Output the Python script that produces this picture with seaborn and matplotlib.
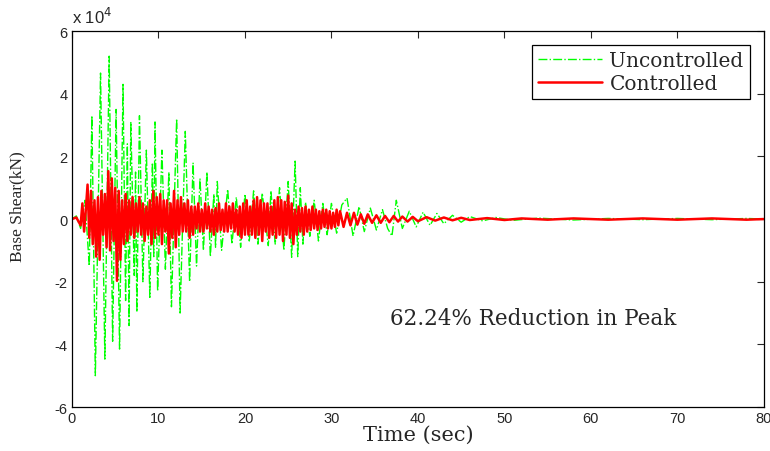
import numpy as np
import pandas as pd
import seaborn as sns
import matplotlib.pyplot as plt

# base shear peaks, units of 1e4 kN
t_unc = [0, 0.5, 1.0, 1.5, 2.0, 2.3, 2.7, 3.3, 3.8, 4.3, 4.7, 5.1, 5.5, 5.9, 6.2, 6.4,
         6.6, 6.8, 7.2, 7.35, 7.5, 7.8, 8.2, 8.6, 9.0, 9.3, 9.45, 9.6, 9.9, 10.4, 10.8,
         11.2, 11.5, 12.1, 12.5, 13.1, 13.6, 14.0, 14.4, 14.8, 15.2, 15.6, 16.0, 16.4,
         16.6, 16.8, 17.3, 18.0, 18.5, 19.0, 19.5, 20.0, 20.5, 21.0, 21.5, 22.0, 22.7,
         23.0, 23.5, 24.0, 24.5, 25.0, 25.4, 25.8, 26.1, 26.4, 26.7, 27.0, 27.5, 28.0,
         28.5, 29.0, 29.5, 30.0, 30.6, 31.2, 31.8, 32.5, 33.2, 33.8, 34.5, 35.2, 35.9,
         36.5, 37.0, 37.5, 38.2, 39.0, 39.8, 40.6, 41.4, 42.2, 43.0, 44.0, 45.0, 46.0,
         47.5, 49.0, 51.0, 54.0, 58.0, 62.0, 66.0, 70.0, 74.0, 78.0, 80.0]
v_unc = [0, 0.1, -0.3, 0.6, -1.5, 3.3, -5.0, 4.66, -4.47, 5.2, -3.9, 3.5, -4.15, 4.3, -2.6, 2.4,
         -3.4, 3.1, -1.8, 1.5, -2.97, 3.3, -2.0, 2.2, -2.5, 1.8, -1.2, 3.1, -2.3, 2.2, -1.6,
         1.5, -2.8, 3.2, -3.0, 2.8, -2.0, 1.8, -1.5, 1.3, -1.0, 1.5, -1.2, 0.8,
         -0.9, 1.2, -1.0, 0.95, -0.8, 0.7, -0.9, 0.8, -0.7, 0.9, -0.8, 0.83, -0.85,
         0.9, -0.8, 1.0, -1.0, 1.2, -1.22, 1.85, -1.2, 1.0, -0.8, 0.54, -0.55, 0.6,
         -0.7, 0.5, -0.5, 0.5, -0.45, 0.45, 0.67, -0.54, 0.4, -0.4, 0.35, -0.35, 0.3,
         -0.3, -0.54, 0.6, -0.3, 0.25, -0.25, 0.22, -0.2, 0.18, -0.15, 0.12, -0.1, 0.08,
         -0.06, 0.05, -0.04, 0.03, -0.03, 0.02, -0.02, 0.02, -0.02, 0.02, 0]

t_con = [0, 0.5,
         1.0, 1.2, 1.4, 1.6, 1.8, 2.0, 2.2, 2.4, 2.6, 2.8, 3.0,
         3.2, 3.4, 3.6, 3.8, 4.0, 4.2, 4.4, 4.6, 4.8, 5.0,
         5.2, 5.4, 5.6, 5.8, 6.0, 6.2, 6.4, 6.6, 6.8, 7.0,
         7.2, 7.4, 7.6, 7.8, 8.0, 8.2, 8.4, 8.6, 8.8, 9.0,
         9.2, 9.4, 9.6, 9.8, 10.0, 10.2, 10.4, 10.6, 10.8, 11.0,
         11.2, 11.4, 11.6, 11.8, 12.0, 12.2, 12.4, 12.6, 12.8, 13.0,
         13.2, 13.4, 13.6, 13.8, 14.0, 14.2, 14.4, 14.6, 14.8, 15.0,
         15.2, 15.4, 15.6, 15.8, 16.0, 16.2, 16.4, 16.6, 16.8, 17.0,
         17.2, 17.4, 17.6, 17.8, 18.0, 18.2, 18.4, 18.6, 18.8, 19.0,
         19.2, 19.4, 19.6, 19.8, 20.0, 20.2, 20.4, 20.6, 20.8, 21.0,
         21.2, 21.4, 21.6, 21.8, 22.0, 22.2, 22.4, 22.6, 22.8, 23.0,
         23.2, 23.4, 23.6, 23.8, 24.0, 24.2, 24.4, 24.6, 24.8, 25.0,
         25.2, 25.4, 25.6, 25.8, 26.0, 26.2, 26.4, 26.6, 26.8, 27.0,
         27.2, 27.4, 27.6, 27.8, 28.0, 28.2, 28.4, 28.6, 28.8, 29.0,
         29.2, 29.4, 29.6, 29.8, 30.0, 30.2, 30.4, 30.6, 30.8, 31.0,
         31.4, 31.8, 32.2, 32.6, 33.0, 33.4, 33.8, 34.2, 34.7, 35.2, 35.7, 36.2,
         36.7, 37.2, 37.7, 38.2, 38.8, 39.4, 40.0, 41.0, 42.0, 43.0, 44.0, 45.0,
         46.0, 48.0, 50.0, 52.0, 55.0, 58.0, 62.0, 66.0, 70.0, 74.0, 78.0, 80.0]
v_con = [0, 0.05,
         -0.2, 0.5, -0.4, 0.3, 1.1, -0.6, 0.9, -0.8, 0.6, -1.2, 0.7,
         -1.3, 0.9, -0.5, 0.8, -0.9, 1.53, -1.0, 1.3, -0.7, 1.0,
         -1.97, 0.9, -1.3, 0.6, -0.8, 0.8, -0.7, 0.6, -0.5, 0.7,
         -0.6, 0.5, -0.4, 0.7, -0.5, 0.5, -0.7, 0.4, -0.5, 0.6,
         -0.8, 0.9, -0.6, 0.7, -0.5, 0.8, -0.8, 0.6, -0.4, 0.6,
         -1.1, 0.5, -0.6, 0.9, -0.9, 0.6, -0.5, 0.7, -0.4, 0.5,
         -0.4, 0.6, -0.6, 0.4, -0.5, 0.4, -0.3, 0.5, -0.4, 0.3,
         -0.4, 0.5, -0.3, 0.4, -0.4, 0.3, -0.5, 0.35, -0.4, 0.5,
         -0.35, 0.3, -0.4, 0.5, -0.4, 0.4, -0.3, 0.5, -0.4, 0.3,
         -0.5, 0.4, -0.6, 0.5, -0.5, 0.6, -0.5, 0.4, -0.5, 0.6,
         -0.6, 0.7, -0.5, 0.6, -0.7, 0.5, -0.4, 0.5, -0.6, 0.4,
         -0.5, 0.6, -0.6, 0.7, -0.5, 0.6, -0.7, 0.55, -0.5, 0.75,
         -0.6, 0.5, -0.8, 0.3, -0.5, 0.4, -0.4, 0.35, -0.5, 0.4,
         -0.4, 0.3, -0.35, 0.4, -0.3, 0.3, -0.35, 0.25, -0.3, 0.3,
         -0.25, 0.3, -0.3, 0.25, -0.3, 0.2, -0.25, 0.3, -0.2, 0.25,
         -0.25, 0.2, -0.2, 0.2, -0.18, 0.15, -0.15, 0.15, -0.12, 0.12, -0.12, 0.1,
         -0.1, 0.1, -0.08, 0.08, -0.08, 0.07, -0.07, 0.06, -0.05, 0.05, -0.04, 0.04,
         -0.03, 0.03, -0.03, 0.02, -0.02, 0.02, -0.02, 0.02, -0.02, 0.02, -0.02, 0]

xticks = [0, 10, 20, 30, 40, 50, 60, 70, 80]
yticks = [-6, -4, -2, 0, 2, 4, 6]

sns.set_style("white")
serif = ['DejaVu Serif']
times = ['Liberation Serif', 'DejaVu Serif']
plt.rcParams['font.family'] = ['Liberation Sans', 'DejaVu Sans']
plt.rcParams['axes.unicode_minus'] = False

fig = plt.figure(figsize=(7.7, 4.52), dpi=100)
ax = fig.add_axes([0.0935, 0.0973, 0.8985, 0.8317])

unc = pd.DataFrame({'t': t_unc, 'v': v_unc})
con = pd.DataFrame({'t': t_con, 'v': v_con})
sns.lineplot(data=unc, x='t', y='v', ax=ax, color='#00ff00', linestyle='-.',
             linewidth=1.0, estimator=None, sort=False, label='Uncontrolled')
sns.lineplot(data=con, x='t', y='v', ax=ax, color='#ff0000', linestyle='-',
             linewidth=1.8, estimator=None, sort=False, label='Controlled')

ax.set_xlim(0, 80)
ax.set_ylim(-6, 6)
ax.set_xticks(xticks)
ax.set_yticks(yticks)
ax.tick_params(direction='in', top=True, right=True, length=5, labelsize=10.5,
               width=0.8, pad=3)
for s in ax.spines.values():
    s.set_color('black')
    s.set_linewidth(0.9)

ax.set_xlabel('Time (sec)', fontsize=15, family=serif, labelpad=0)
ax.set_ylabel('Base Shear(kN)', fontsize=12.5, family=times)
ax.yaxis.set_label_coords(-0.068, 0.535)
fig.text(0.0935, 0.947, 'x 10$^4$', fontsize=12, ha='left', va='baseline')

ax.text(36.8, -3.15, '62.24% Reduction in Peak', fontsize=15.5, family=serif,
        va='center', ha='left')

leg = ax.legend(loc='upper right', prop={'family': serif, 'size': 14.5},
                fancybox=False, framealpha=1, edgecolor='black',
                handlelength=3.2, handletextpad=0.35, borderaxespad=0.7,
                borderpad=0.3, labelspacing=0.2)
leg.get_frame().set_linewidth(0.9)

fig.savefig('out.png', dpi=100)
